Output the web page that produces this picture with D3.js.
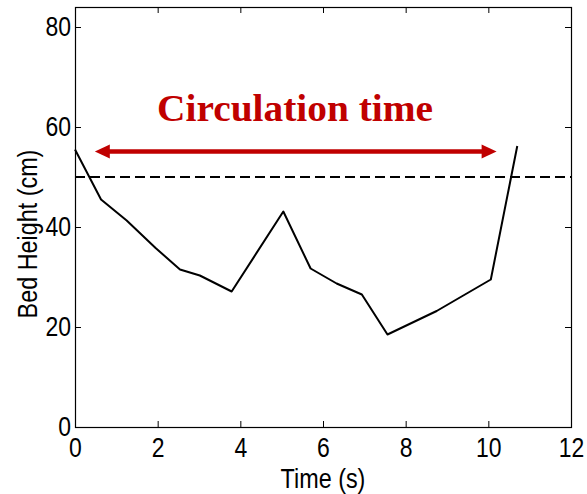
<!DOCTYPE html>
<html>
<head>
<meta charset="utf-8">
<script src="https://cdn.jsdelivr.net/npm/d3@7"></script>
<style>
  body { margin: 0; background: #fff; }
  svg { display: block; }
  .tick text { font-family: 'Liberation Sans', Arial, sans-serif; font-size: 28px; fill: #000;
               transform-box: fill-box; transform: scaleX(0.82); }
  .xax .tick text { transform-origin: center; }
  .yax .tick text { transform-origin: right center; }
  .lbl { font-family: 'Liberation Sans', Arial, sans-serif; font-size: 28.5px; fill: #000; }
</style>
</head>
<body>
<script>
// bed height over one circulation
var times   = [0, 0.63, 1.25, 1.95, 2.54, 3.02, 3.79, 5.04, 5.70, 6.33, 6.94, 7.56, 8.75, 10.06, 10.70];
var heights = [55.5, 45.5, 41.3, 35.8, 31.5, 30.3, 27.1, 43.1, 31.7, 28.7, 26.5, 18.5, 23.2, 29.5, 56.2];

var xTicks = [0, 2, 4, 6, 8, 10, 12];
var yTicks = [0, 20, 40, 60, 80];

var threshold = 50;
var arrowFrom = 0.48, arrowTo = 10.2, arrowAt = 55.1;
var title = 'Circulation time';

const W = 587, H = 494;
const margin = {top: 7, right: 16, bottom: 67, left: 75};
const w = W - margin.left - margin.right;
const h = H - margin.top - margin.bottom;

var svg = d3.select('body').append('svg')
  .attr('width', W)
  .attr('height', H);

var g = svg.append('g')
  .attr('transform', 'translate(' + margin.left + ',' + margin.top + ')');

var x = d3.scaleLinear().domain([0, 12]).range([0, w]);
var y = d3.scaleLinear().domain([0, 84]).range([h, 0]);

function style_axis(sel)
{
  sel.select('.domain').remove();
  sel.selectAll('.tick line').attr('stroke', '#000').attr('stroke-width', 1);
  sel.attr('font-family', null).attr('font-size', null);
}

g.append('g')
  .attr('class', 'xax')
  .attr('transform', 'translate(0,' + h + ')')
  .call(d3.axisBottom(x).tickValues(xTicks).tickFormat(d3.format('d')).tickSizeInner(-6).tickSizeOuter(0).tickPadding(10))
  .call(style_axis);

g.append('g')
  .attr('class', 'yax')
  .call(d3.axisLeft(y).tickValues(yTicks).tickFormat(d3.format('d')).tickSizeInner(-6).tickSizeOuter(0).tickPadding(4))
  .call(style_axis);

g.append('g')
  .call(d3.axisTop(x).tickValues(xTicks).tickFormat('').tickSizeInner(-6).tickSizeOuter(0))
  .call(style_axis);

g.append('g')
  .attr('transform', 'translate(' + w + ',0)')
  .call(d3.axisRight(y).tickValues(yTicks).tickFormat('').tickSizeInner(-6).tickSizeOuter(0))
  .call(style_axis);

// box
g.append('rect')
  .attr('x', 0.5).attr('y', 0.5)
  .attr('width', w).attr('height', h)
  .attr('fill', 'none')
  .attr('stroke', '#000')
  .attr('stroke-width', 1.2);

// threshold
g.append('line')
  .attr('x1', x(0)).attr('x2', x(12))
  .attr('y1', y(threshold)).attr('y2', y(threshold))
  .attr('stroke', '#000')
  .attr('stroke-width', 2)
  .attr('stroke-dasharray', '10,5');

var line = d3.line()
  .x((d, i) => x(times[i]))
  .y(d => y(d));

g.append('path')
  .datum(heights)
  .attr('d', line)
  .attr('fill', 'none')
  .attr('stroke', '#000')
  .attr('stroke-width', 2)
  .attr('stroke-linejoin', 'round');

// arrow
var red = '#c00000';
var ay = y(arrowAt), ax1 = x(arrowFrom), ax2 = x(arrowTo);
var headL = 15, headW = 7;
g.append('line')
  .attr('x1', ax1 + headL - 1).attr('x2', ax2 - headL + 1)
  .attr('y1', ay).attr('y2', ay)
  .attr('stroke', red)
  .attr('stroke-width', 4.5);
g.append('path')
  .attr('d', 'M' + ax1 + ',' + ay + 'L' + (ax1 + headL) + ',' + (ay - headW) + 'L' + (ax1 + headL) + ',' + (ay + headW) + 'Z')
  .attr('fill', red);
g.append('path')
  .attr('d', 'M' + ax2 + ',' + ay + 'L' + (ax2 - headL) + ',' + (ay - headW) + 'L' + (ax2 - headL) + ',' + (ay + headW) + 'Z')
  .attr('fill', red);

svg.append('text')
  .attr('x', 295)
  .attr('y', 121)
  .attr('text-anchor', 'middle')
  .attr('font-family', "'Palatino Linotype', 'Book Antiqua', 'Liberation Serif', serif")
  .attr('font-weight', 'bold')
  .attr('font-size', 37)
  .attr('fill', red)
  .attr('textLength', 276)
  .attr('lengthAdjust', 'spacingAndGlyphs')
  .text(title);

// axis labels
svg.append('text')
  .attr('class', 'lbl')
  .attr('transform', 'translate(' + (margin.left + w / 2) + ',488) scale(0.82,1)')
  .attr('text-anchor', 'middle')
  .text('Time (s)');

svg.append('text')
  .attr('class', 'lbl')
  .attr('transform', 'translate(37,234) rotate(-90) scale(0.82,1)')
  .attr('text-anchor', 'middle')
  .text('Bed Height (cm)');
</script>
</body>
</html>
